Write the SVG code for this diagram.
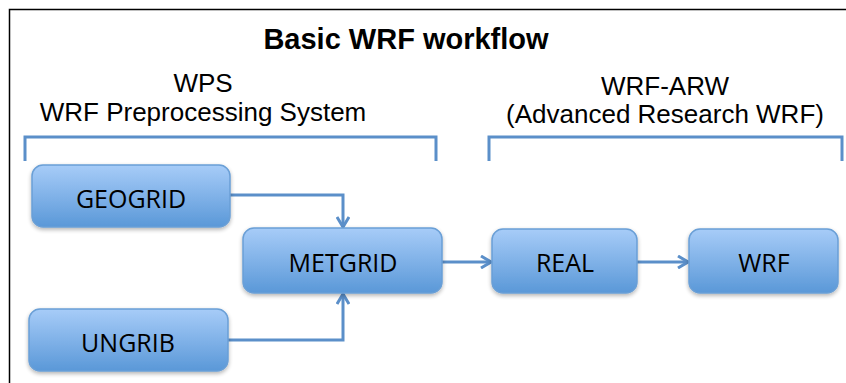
<svg xmlns="http://www.w3.org/2000/svg" width="846" height="383" viewBox="0 0 846 383">
<defs>
<linearGradient id="g" x1="0" y1="0" x2="0" y2="1">
<stop offset="0" stop-color="#a7ccf8"/>
<stop offset="1" stop-color="#5a98d8"/>
</linearGradient>
<filter id="sh" x="-10%" y="-10%" width="120%" height="130%">
<feGaussianBlur in="SourceAlpha" stdDeviation="2"/>
<feOffset dx="0" dy="2" result="b"/>
<feComponentTransfer><feFuncA type="linear" slope="0.3"/></feComponentTransfer>
<feMerge><feMergeNode/><feMergeNode in="SourceGraphic"/></feMerge>
</filter>
<marker id="arr" viewBox="0 0 12 14" refX="11" refY="7" markerWidth="12" markerHeight="14" markerUnits="userSpaceOnUse" orient="auto">
<path d="M1,1 L11,7 L1,13" fill="none" stroke="#5b8fc9" stroke-width="3"/>
</marker>
</defs>
<style>
.box{fill:url(#g);stroke:#6a9fd6;stroke-width:1.5;filter:url(#sh)}
.lbl{font-family:"Open Sans","Noto Sans",sans-serif;font-size:25px;fill:#000;text-anchor:middle}
.hdr{font-family:"Liberation Sans",Arial,sans-serif;font-size:26px;fill:#000;text-anchor:middle}
.title{font-family:"Liberation Sans",Arial,sans-serif;font-size:29px;font-weight:bold;fill:#000;text-anchor:middle}
.br{fill:none;stroke:#5b8fc9;stroke-width:3}
.con{fill:none;stroke:#5b8fc9;stroke-width:3;marker-end:url(#arr)}
</style>
<rect width="846" height="383" fill="#fff"/>
<path d="M9.5,383 L9.5,9.5 L846,9.5" fill="none" stroke="#000" stroke-width="1.5"/>
<text class="title" x="406" y="49">Basic WRF workflow</text>
<text class="hdr" x="203" y="92">WPS</text>
<text class="hdr" x="203" y="121">WRF Preprocessing System</text>
<text class="hdr" x="665" y="95">WRF-ARW</text>
<text class="hdr" x="665" y="123">(Advanced Research WRF)</text>
<path class="br" d="M25,161 L25,137 L436,137 L436,161"/>
<path class="br" d="M489,161 L489,137 L842,137 L842,161"/>
<g id="connectors">
<path class="con" d="M230,195 L343,195 L343,227"/>
<path class="con" d="M228,340 L343,340 L343,294"/>
<path class="con" d="M442,262 L491,262"/>
<path class="con" d="M637,262 L688,262"/>
</g>
<g id="geogrid"><rect class="box" x="32" y="165" width="198" height="62" rx="11"/><text class="lbl" x="131" y="208">GEOGRID</text></g>
<g id="metgrid"><rect class="box" x="243" y="228" width="199" height="65" rx="11"/><text class="lbl" x="343" y="272">METGRID</text></g>
<g id="ungrib"><rect class="box" x="29" y="309" width="199" height="62" rx="11"/><text class="lbl" x="128" y="352">UNGRIB</text></g>
<g id="real"><rect class="box" x="492" y="229" width="145" height="64" rx="11"/><text class="lbl" x="565" y="272">REAL</text></g>
<g id="wrf"><rect class="box" x="689" y="229" width="149" height="64" rx="11"/><text class="lbl" x="764" y="272">WRF</text></g>
</svg>
